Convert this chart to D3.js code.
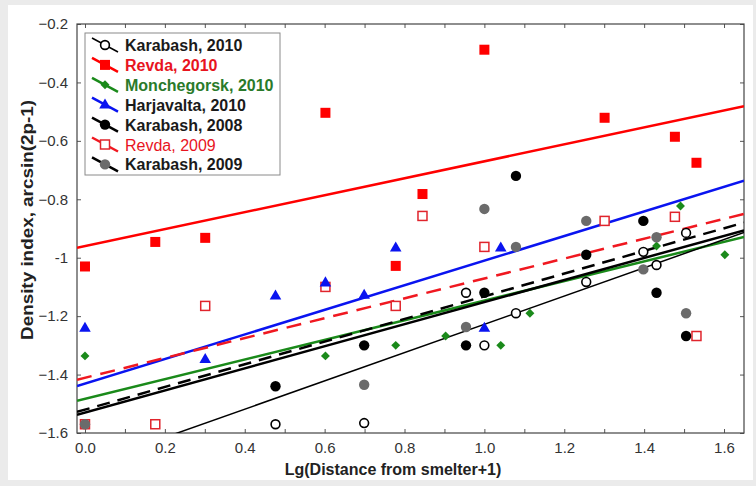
<!DOCTYPE html>
<html>
<head>
<meta charset="utf-8">
<script src="https://cdn.jsdelivr.net/npm/d3@7"></script>
<style>
  body { margin: 0; background: #ebebeb; }
  svg { display: block; font-family: Arial, "Liberation Sans", sans-serif; }
</style>
</head>
<body>
<div id="chart"></div>
<script>
// values, x = lg(distance from smelter + 1)
var karabash2010X = [0.477, 0.699, 0.954, 1.0, 1.079, 1.255, 1.398, 1.431, 1.505]
var karabash2010Y = [-1.57, -1.566, -1.12, -1.30, -1.19, -1.083, -0.98, -1.025, -0.915]

var revda2010X = [0, 0.176, 0.301, 0.602, 0.778, 0.845, 1.0, 1.301, 1.477, 1.531]
var revda2010Y = [-1.03, -0.946, -0.932, -0.504, -1.028, -0.782, -0.288, -0.521, -0.586, -0.675]

var monchegorsk2010X = [0, 0.602, 0.778, 0.903, 1.041, 1.114, 1.431, 1.491, 1.602]
var monchegorsk2010Y = [-1.336, -1.336, -1.30, -1.268, -1.30, -1.19, -0.96, -0.823, -0.99]

var harjavalta2010X = [0, 0.301, 0.477, 0.602, 0.699, 0.778, 1.0, 1.041]
var harjavalta2010Y = [-1.24, -1.347, -1.13, -1.085, -1.127, -0.966, -1.24, -0.966]

var karabash2008X = [0.477, 0.699, 0.954, 1.0, 1.079, 1.255, 1.398, 1.431, 1.505]
var karabash2008Y = [-1.44, -1.30, -1.30, -1.12, -0.72, -0.99, -0.874, -1.12, -1.268]

var revda2009X = [0, 0.176, 0.301, 0.602, 0.778, 0.845, 1.0, 1.301, 1.477, 1.531]
var revda2009Y = [-1.57, -1.57, -1.165, -1.10, -1.165, -0.857, -0.963, -0.874, -0.86, -1.268]

var karabash2009X = [0, 0.699, 0.954, 1.0, 1.079, 1.255, 1.398, 1.431, 1.505]
var karabash2009Y = [-1.57, -1.435, -1.237, -0.833, -0.963, -0.874, -1.04, -0.93, -1.19]

// regression lines: [intercept, slope]
var fitKarabash2010 = [-1.712, 0.484]
var fitRevda2010 = [-0.96, 0.29]
var fitMonchegorsk2010 = [-1.483, 0.336]
var fitHarjavalta2010 = [-1.431, 0.421]
var fitKarabash2008 = [-1.530, 0.378]
var fitRevda2009 = [-1.411, 0.34]
var fitKarabash2009 = [-1.52, 0.388]

var xTicks = [0, 0.2, 0.4, 0.6, 0.8, 1.0, 1.2, 1.4, 1.6]
var yTicks = [-0.2, -0.4, -0.6, -0.8, -1, -1.2, -1.4, -1.6]

var series = [
    { name: 'Karabash, 2010', xs: karabash2010X, ys: karabash2010Y, fit: fitKarabash2010, color: '#000', marker: 'opencircle', width: 1.5, dash: null, text: '#1a1a1a', bold: true },
    { name: 'Revda, 2010', xs: revda2010X, ys: revda2010Y, fit: fitRevda2010, color: '#f00', marker: 'square', width: 2.5, dash: null, text: '#e8141e', bold: true },
    { name: 'Monchegorsk, 2010', xs: monchegorsk2010X, ys: monchegorsk2010Y, fit: fitMonchegorsk2010, color: '#1a8a1a', marker: 'diamond', width: 2.5, dash: null, text: '#2a7a2a', bold: true },
    { name: 'Harjavalta, 2010', xs: harjavalta2010X, ys: harjavalta2010Y, fit: fitHarjavalta2010, color: '#0a14f0', marker: 'triangle', width: 2.5, dash: null, text: '#1a1a1a', bold: true },
    { name: 'Karabash, 2008', xs: karabash2008X, ys: karabash2008Y, fit: fitKarabash2008, color: '#000', marker: 'circle', width: 2.5, dash: null, text: '#1a1a1a', bold: true },
    { name: 'Revda, 2009', xs: revda2009X, ys: revda2009Y, fit: fitRevda2009, color: '#f01820', marker: 'opensquare', width: 2.5, dash: '15,9', text: '#e8141e', bold: false },
    { name: 'Karabash, 2009', xs: karabash2009X, ys: karabash2009Y, fit: fitKarabash2009, color: '#000', marker: 'graycircle', width: 2.5, dash: '13,8', text: '#1a1a1a', bold: true }
]

var W = 756, H = 486
var margin = { top: 24, right: 12, bottom: 53, left: 77 }

var svg = d3.select('#chart').append('svg')
    .attr('width', W)
    .attr('height', H)

// grey page frame with white card
svg.append('rect').attr('width', W).attr('height', H).attr('fill', '#ebebeb')
svg.append('rect').attr('x', 8).attr('y', 5).attr('width', 745).attr('height', 475).attr('fill', '#fff')

var x = d3.scaleLinear().domain([-0.02, 1.65]).range([margin.left, W - margin.right])
var y = d3.scaleLinear().domain([-1.6, -0.2]).range([H - margin.bottom, margin.top])

var x0 = x.range()[0], x1 = x.range()[1], y0 = y.range()[0], y1 = y.range()[1]

svg.append('clipPath').attr('id', 'clip')
    .append('rect').attr('x', x0).attr('y', y1).attr('width', x1 - x0).attr('height', y0 - y1)

// axes with inward ticks
var minorX = d3.range(0, 17).map(function (i) { return i / 10 })
svg.append('g')
    .attr('transform', 'translate(0,' + y0 + ')')
    .call(d3.axisBottom(x).tickValues(minorX).tickSize(-4).tickFormat(''))
    .call(function (g) { g.select('.domain').remove() })
svg.append('g')
    .attr('transform', 'translate(0,' + y1 + ')')
    .call(d3.axisTop(x).tickValues(minorX).tickSize(-4).tickFormat(''))
    .call(function (g) { g.select('.domain').remove() })
svg.append('g')
    .attr('transform', 'translate(0,' + y0 + ')')
    .call(d3.axisBottom(x).tickValues(xTicks).tickSize(0).tickPadding(9).tickFormat(d3.format('.1f')))
    .call(function (g) { g.select('.domain').remove() })
svg.append('g')
    .attr('transform', 'translate(' + x0 + ',0)')
    .call(d3.axisLeft(y).tickValues(yTicks).tickSize(-4).tickPadding(9).tickFormat(function (d) { return d === -1 ? '-1' : d3.format('.1f')(d) }))
    .call(function (g) { g.select('.domain').remove() })
svg.append('g')
    .attr('transform', 'translate(' + x1 + ',0)')
    .call(d3.axisRight(y).tickValues(yTicks).tickSize(-4).tickFormat(''))
    .call(function (g) { g.select('.domain').remove() })

svg.selectAll('.tick line').attr('stroke', '#555')
svg.selectAll('.tick text').attr('font-size', '15px').attr('fill', '#333').attr('font-family', 'Arial, "Liberation Sans", sans-serif')

// plot frame
svg.append('rect')
    .attr('x', x0).attr('y', y1).attr('width', x1 - x0).attr('height', y0 - y1)
    .attr('fill', 'none').attr('stroke', '#444').attr('stroke-width', 1.2)

// axis titles
svg.append('text')
    .attr('x', 393).attr('y', 475)
    .attr('text-anchor', 'middle')
    .attr('font-size', '16px').attr('font-weight', 'bold').attr('fill', '#222')
    .text('Lg(Distance from smelter+1)')
svg.append('text')
    .attr('transform', 'translate(33,220) rotate(-90)')
    .attr('text-anchor', 'middle')
    .attr('font-size', '16px').attr('font-weight', 'bold').attr('fill', '#222')
    .attr('textLength', 240).attr('lengthAdjust', 'spacingAndGlyphs')
    .text('Density index, arcsin(2p-1)')

// regression lines
var plot = svg.append('g').attr('clip-path', 'url(#clip)')
var line = d3.line().x(function (d) { return x(d[0]) }).y(function (d) { return y(d[1]) })
var drawOrder = [1, 3, 5, 2, 6, 4, 0]
drawOrder.forEach(function (i) {
    var s = series[i]
    var xd = x.domain()
    plot.append('path')
        .datum(xd.map(function (v) { return [v, s.fit[0] + s.fit[1] * v] }))
        .attr('d', line)
        .attr('fill', 'none')
        .attr('stroke', s.color)
        .attr('stroke-width', s.width)
        .attr('stroke-dasharray', s.dash)
})

function drawMarker(g, kind, cx, cy) {
    if (kind === 'circle' || kind === 'graycircle') {
        g.append('circle').attr('cx', cx).attr('cy', cy).attr('r', 5.2)
            .attr('fill', kind === 'circle' ? '#000' : '#6b6b6b')
    } else if (kind === 'opencircle') {
        g.append('circle').attr('cx', cx).attr('cy', cy).attr('r', 4.4)
            .attr('fill', '#fff').attr('stroke', '#000').attr('stroke-width', 1.6)
    } else if (kind === 'square') {
        g.append('rect').attr('x', cx - 5).attr('y', cy - 5).attr('width', 10).attr('height', 10)
            .attr('fill', '#f00')
    } else if (kind === 'opensquare') {
        g.append('rect').attr('x', cx - 4.5).attr('y', cy - 4.5).attr('width', 9).attr('height', 9)
            .attr('fill', '#fff').attr('stroke', '#e0242c').attr('stroke-width', 1.5)
    } else if (kind === 'triangle') {
        g.append('path').attr('d', d3.symbol(d3.symbolTriangle, 58)())
            .attr('transform', 'translate(' + cx + ',' + (cy + 0.5) + ')')
            .attr('fill', '#0a14f0')
    } else if (kind === 'diamond') {
        g.append('path').attr('d', d3.symbol(d3.symbolSquare, 40)())
            .attr('transform', 'translate(' + cx + ',' + cy + ') rotate(45)')
            .attr('fill', '#1a8a1a')
    }
}

// markers
var markerOrder = [5, 1, 3, 2, 6, 4, 0]
var pts = svg.append('g')
markerOrder.forEach(function (i) {
    var s = series[i]
    s.xs.forEach(function (v, j) {
        drawMarker(pts, s.marker, x(v), y(s.ys[j]))
    })
})

// legend
var legend = svg.append('g')
legend.append('rect')
    .attr('x', 85).attr('y', 33).attr('width', 195).attr('height', 142)
    .attr('fill', '#fff').attr('stroke', '#8a8a8a').attr('stroke-width', 1)
series.forEach(function (s, i) {
    var cy = 45 + i * 19.9
    var cx = 105
    legend.append('line')
        .attr('x1', cx - 13).attr('y1', cy - 7).attr('x2', cx + 13).attr('y2', cy + 7)
        .attr('stroke', s.color).attr('stroke-width', s.width)
    drawMarker(legend, s.marker, cx, cy)
    legend.append('text')
        .attr('x', 125).attr('y', cy + 6)
        .attr('font-size', '16px')
        .attr('font-weight', s.bold ? 'bold' : 'normal')
        .attr('fill', s.text)
        .text(s.name)
})
</script>
</body>
</html>
